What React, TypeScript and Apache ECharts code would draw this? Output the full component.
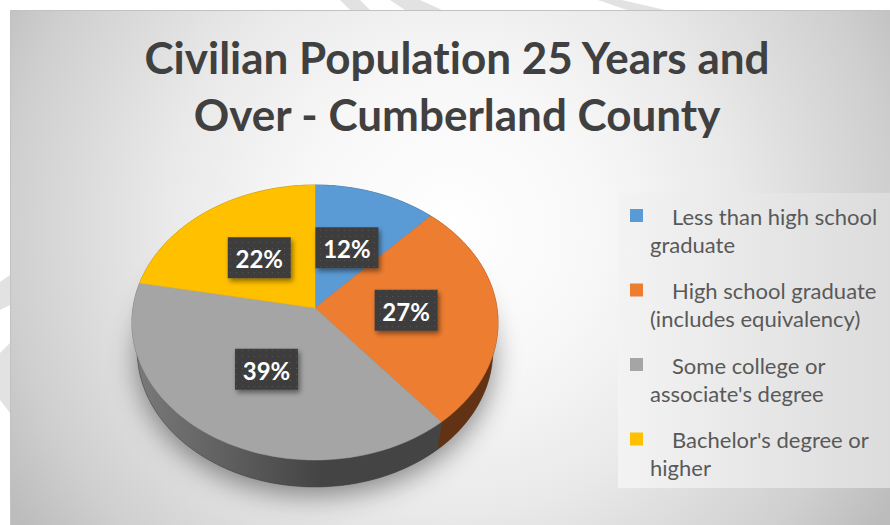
import React, { useEffect, useRef } from "react";
import * as echarts from "echarts";

const categories = [
  "Less than high school\ngraduate",
  "High school graduate\n(includes equivalency)",
  "Some college or\nassociate's degree",
  "Bachelor's degree or\nhigher",
];
const percentages = [12, 27, 39, 22];
const sliceColors = ["#5B9BD5", "#ED7D31", "#A5A5A5", "#FFC000"];
const titleLines = ["Civilian Population 25 Years and", "Over - Cumberland County"];

// projection of the tilted disc
const CX = 315;
const CY = 308;
const SCALE = 182;
const DIST = 6.3;
const SIN_T = 0.747;
const COS_T = 0.665;
const DEPTH = 0.242;

function project(deg: number, r: number, y: number): number[] {
  const a = (deg * Math.PI) / 180;
  const X = r * Math.sin(a);
  const Z = r * Math.cos(a);
  const yv = y * COS_T + Z * SIN_T;
  const zv = DIST + Z * COS_T - y * SIN_T;
  return [CX + (SCALE * X * DIST) / zv, CY - (SCALE * yv * DIST) / zv];
}

function arcPts(a0: number, a1: number, r: number, y: number): number[][] {
  const n = Math.max(6, Math.ceil((a1 - a0) / 2));
  const pts: number[][] = [];
  for (let k = 0; k <= n; k++) pts.push(project(a0 + ((a1 - a0) * k) / n, r, y));
  return pts;
}

function shade(hex: string, f: number): string {
  const v = parseInt(hex.slice(1), 16);
  const r = Math.round(((v >> 16) & 255) * f);
  const g = Math.round(((v >> 8) & 255) * f);
  const b = Math.round((v & 255) * f);
  return `rgb(${r},${g},${b})`;
}

function makePattern(): any {
  const c = document.createElement("canvas");
  c.width = 6;
  c.height = 6;
  const ctx = c.getContext("2d");
  if (!ctx) return "#404040";
  ctx.fillStyle = "#3e3e3e";
  ctx.fillRect(0, 0, 6, 6);
  ctx.fillStyle = "#565656";
  ctx.fillRect(2, 2, 1, 1);
  return { image: c, repeat: "repeat", imageWidth: 6, imageHeight: 6 };
}

export default function App() {
  const ref = useRef<HTMLDivElement>(null);

  useEffect(() => {
    if (!ref.current) return;
    const chart = echarts.init(ref.current, undefined, { renderer: "svg" });
    const pattern = makePattern();
    const total = percentages.reduce((s, v) => s + v, 0);

    const renderItem = (params: any, api: any) => {
      const i = params.dataIndex;
      const value = api.value(0);
      let before = 0;
      for (let k = 0; k < i; k++) before += percentages[k];
      const a0 = (before / total) * 360;
      const a1 = a0 + (value / total) * 360;
      const color = sliceColors[i];
      const children: any[] = [];
      if (i === 0) {
        children.push({
          type: "polygon",
          z2: 0,
          shape: { points: arcPts(0, 360, 1, -DEPTH) },
          style: {
            fill: "#5a5a5a",
            shadowBlur: 28,
            shadowColor: "rgba(0,0,0,0.45)",
            shadowOffsetY: 8,
          },
        });
      }
      const top = arcPts(a0, a1, 1, 0);
      const bottom = arcPts(a0, a1, 1, -DEPTH).reverse();
      children.push({
        type: "polygon",
        z2: 1,
        shape: { points: top.concat(bottom) },
        style: {
          fill: {
            type: "linear",
            x: 135,
            y: 0,
            x2: 320,
            y2: 0,
            global: true,
            colorStops: [
              { offset: 0, color: shade(color, 0.74) },
              { offset: 1, color: shade(color, 0.41) },
            ],
          },
          stroke: shade(color, 0.41),
          lineWidth: 0.5,
        },
      });
      children.push({
        type: "polygon",
        z2: 2,
        shape: { points: [project(0, 0, 0)].concat(top) },
        style: { fill: color, stroke: color, lineWidth: 0.5 },
      });
      const mid = (a0 + a1) / 2;
      const lp = project(mid, 0.5, 0);
      children.push({
        type: "rect",
        z2: 3,
        shape: { x: lp[0] - 31.5, y: lp[1] - 20.5, width: 63, height: 41 },
        style: {
          fill: pattern,
          shadowBlur: 5,
          shadowOffsetX: 2,
          shadowOffsetY: 3,
          shadowColor: "rgba(0,0,0,0.45)",
        },
      });
      children.push({
        type: "text",
        z2: 4,
        x: lp[0],
        y: lp[1] + 1,
        style: {
          text: value + "%",
          fill: "#ffffff",
          fontFamily: "Lato",
          fontWeight: "bold",
          fontSize: 24,
          align: "center",
          verticalAlign: "middle",
        },
      });
      return { type: "group", children };
    };

    const legendEls: any[] = [];
    categories.forEach((name, i) => {
      const y0 = 209 + 74.5 * i;
      legendEls.push({
        type: "rect",
        shape: { x: 630, y: y0, width: 13, height: 13 },
        style: { fill: sliceColors[i] },
      });
      const lines = name.split("\n");
      lines.forEach((line, j) => {
        legendEls.push({
          type: "text",
          x: j === 0 ? 672 : 650,
          y: y0 + 7 + 28 * j,
          style: {
            text: line,
            fill: "#595959",
            fontFamily: "Lato",
            fontSize: 22,
            verticalAlign: "middle",
          },
        });
      });
    });

    chart.setOption({
      animation: false,
      title: {
        text: titleLines.join("\n"),
        left: 457,
        top: 28,
        padding: 0,
        textAlign: "center",
        textStyle: {
          fontFamily: "Lato",
          fontWeight: "bold",
          fontSize: 44,
          lineHeight: 57,
          color: "#404040",
        },
      },
      graphic: {
        elements: [
          { type: "polygon", shape: { points: [[340, 0], [360, 0], [370, 10], [350, 10]] }, style: { fill: "#e2e2e2" } },
          { type: "polygon", shape: { points: [[390, 0], [420, 0], [442, 10], [405, 10]] }, style: { fill: "#e2e2e2" } },
          { type: "polygon", shape: { points: [[598, 0], [622, 0], [665, 10], [627, 10]] }, style: { fill: "#e2e2e2" } },
          { type: "polygon", shape: { points: [[0, 282], [10, 275], [10, 305], [0, 310]] }, style: { fill: "#e2e2e2" } },
          { type: "polygon", shape: { points: [[0, 353], [10, 343], [10, 413], [0, 400]] }, style: { fill: "#e2e2e2" } },
          {
            type: "rect",
            shape: { x: 10.5, y: 10.5, width: 890, height: 525 },
            style: {
              fill: {
                type: "radial",
                x: 450,
                y: 230,
                r: 520,
                global: true,
                colorStops: [
                  { offset: 0, color: "#ffffff" },
                  { offset: 0.3, color: "#f7f7f7" },
                  { offset: 0.55, color: "#e9e9e9" },
                  { offset: 0.85, color: "#cfcfcf" },
                  { offset: 1, color: "#bcbcbc" },
                ],
              },
              stroke: "#c2c2c2",
              lineWidth: 1,
            },
          },
          {
            type: "rect",
            shape: { x: 618, y: 193, width: 272, height: 295 },
            style: {
              fill: {
                type: "linear",
                x: 0,
                y: 0,
                x2: 1,
                y2: 0,
                colorStops: [
                  { offset: 0, color: "#f3f3f3" },
                  { offset: 1, color: "#dcdcdc" },
                ],
              },
            },
          },
          ...legendEls,
        ],
      },
      series: [
        {
          type: "custom",
          coordinateSystem: "none",
          renderItem,
          data: percentages.map((v, i) => ({ value: [v], name: categories[i] })),
        },
      ],
    });
    return () => chart.dispose();
  }, []);

  return (
    <>
      <style>{"svg text { font-variant-ligatures: none !important; }"}</style>
      <div
        ref={ref}
        style={{ position: "fixed", left: 0, top: 0, width: 890, height: 525, background: "#ffffff" }}
      />
    </>
  );
}
